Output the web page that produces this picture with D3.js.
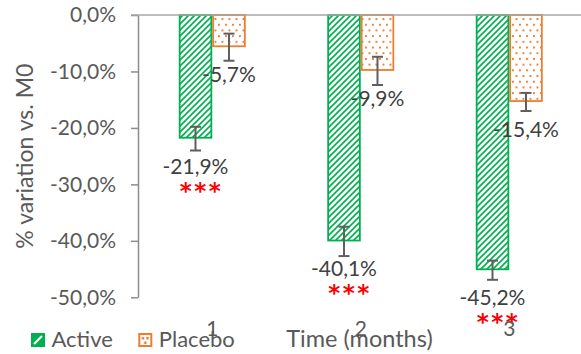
<!DOCTYPE html>
<html>
<head>
<meta charset="utf-8">
<script src="https://cdn.jsdelivr.net/npm/d3@7"></script>
<style>
  html, body { margin: 0; padding: 0; background: #fff; }
  svg { display: block; font-family: Lato, "Open Sans", sans-serif; }
</style>
</head>
<body>
<svg id="chart" width="581" height="354"></svg>
<script>
// Mean change from baseline (M0), in %, per follow-up month
const months = ["1", "2", "3"];
const seriesNames = ["Active", "Placebo"];
const activeValues = [-21.9, -40.1, -45.2];
const placeboValues = [-5.7, -9.9, -15.4];
const activeErrors = [2.1, 2.6, 1.7];
const placeboErrors = [2.4, 2.5, 1.6];
const significance = ["***", "***", "***"];
const yTicks = [0, -10, -20, -30, -40, -50];

const green = "#00b050";
const orange = "#ed7d31";

const locale = d3.formatLocale({ decimal: ",", thousands: ".", grouping: [3], currency: ["", "€"], minus: "-" });
const fmt1 = locale.format(".1f");
const pct = v => fmt1(v) + "%";

const svg = d3.select("#chart");
const defs = svg.append("defs");

// Diagonal hatch for the active arm
const hatch = defs.append("pattern")
  .attr("id", "hatch").attr("patternUnits", "userSpaceOnUse")
  .attr("width", 6).attr("height", 6);
hatch.append("rect").attr("width", 6).attr("height", 6).attr("fill", "#fff");
hatch.append("path")
  .attr("d", "M-1.5,1.5L1.5,-1.5M0,6L6,0M4.5,7.5L7.5,4.5")
  .attr("stroke", green).attr("stroke-width", 1.6);

// Dotted fill for the placebo arm
const dots = defs.append("pattern")
  .attr("id", "dots").attr("patternUnits", "userSpaceOnUse")
  .attr("width", 7).attr("height", 11.4);
dots.append("rect").attr("width", 7).attr("height", 11.4).attr("fill", "#fff");
dots.append("rect").attr("x", 1).attr("y", 1).attr("width", 1.9).attr("height", 1.9).attr("fill", orange);
dots.append("rect").attr("x", 4.5).attr("y", 6.7).attr("width", 1.9).attr("height", 1.9).attr("fill", orange);

// Compact versions of both fills for the legend keys
const hatchKey = defs.append("pattern")
  .attr("id", "hatchKey").attr("patternUnits", "objectBoundingBox")
  .attr("width", 1).attr("height", 1);
hatchKey.append("rect").attr("width", 12).attr("height", 12).attr("fill", green);
hatchKey.append("path").attr("d", "M2,10L10,2").attr("stroke", "#fff").attr("stroke-width", 2.2);

const dotsKey = defs.append("pattern")
  .attr("id", "dotsKey").attr("patternUnits", "objectBoundingBox")
  .attr("width", 1).attr("height", 1);
dotsKey.append("rect").attr("width", 12).attr("height", 12).attr("fill", "#fff");
dotsKey.append("rect").attr("x", 2.5).attr("y", 3).attr("width", 2.5).attr("height", 2.5).attr("fill", orange);
dotsKey.append("rect").attr("x", 7).attr("y", 3).attr("width", 2.5).attr("height", 2.5).attr("fill", orange);
dotsKey.append("rect").attr("x", 4.8).attr("y", 7.5).attr("width", 2.5).attr("height", 2.5).attr("fill", orange);

const series = [
  { name: seriesNames[0], values: activeValues, errors: activeErrors, color: green, fill: "url(#hatch)", key: "url(#hatchKey)" },
  { name: seriesNames[1], values: placeboValues, errors: placeboErrors, color: orange, fill: "url(#dots)", key: "url(#dotsKey)" }
];

const plotLeft = 138, plotRight = 583.5, plotTop = 15, plotBottom = 297.3;

const y = d3.scaleLinear().domain([-50, 0]).range([plotBottom, plotTop]);
const x0 = d3.scaleBand().domain(months).range([plotLeft, plotRight])
  .paddingInner(0.549).paddingOuter(0.2745);
const x1 = d3.scaleBand().domain(seriesNames).range([0, x0.bandwidth()]);

// Y axis
const yAxis = svg.append("g")
  .attr("transform", `translate(${plotLeft},0)`)
  .call(d3.axisLeft(y).tickValues(yTicks).tickFormat(pct).tickSize(7).tickSizeOuter(0).tickPadding(15));
yAxis.select(".domain").attr("stroke", "#8c8c8c").attr("stroke-width", 1.5);
yAxis.selectAll(".tick line").attr("stroke", "#8c8c8c").attr("stroke-width", 1.5);
yAxis.selectAll(".tick text").attr("fill", "#595959").attr("font-size", 21)
  .attr("font-family", "Lato, 'Open Sans', sans-serif");

// Bars
const groups = svg.append("g").selectAll("g")
  .data(series).join("g");

groups.selectAll("rect")
  .data(s => s.values.map((v, i) => ({ s, v, i })))
  .join("rect")
  .attr("x", d => x0(months[d.i]) + x1(d.s.name) + 0.9)
  .attr("y", y(0))
  .attr("width", x1.bandwidth() - 1.8)
  .attr("height", d => y(d.v) - y(0) - 0.9)
  .attr("fill", d => d.s.fill)
  .attr("stroke", d => d.s.color)
  .attr("stroke-width", 1.8);

// Category axis line along zero
svg.append("line")
  .attr("x1", plotLeft - 7).attr("x2", plotRight)
  .attr("y1", y(0)).attr("y2", y(0))
  .attr("stroke", "#a6a6a6").attr("stroke-width", 1.6);

// Error bars
const cx = d => x0(months[d.i]) + x1(d.s.name) + x1.bandwidth() / 2;
const err = groups.selectAll("g.err")
  .data(s => s.values.map((v, i) => ({ s, v, i, e: s.errors[i] })))
  .join("g").attr("class", "err")
  .attr("stroke", "#5f5f5f").attr("stroke-width", 2);
err.append("line")
  .attr("x1", cx).attr("x2", cx)
  .attr("y1", d => y(d.v + d.e)).attr("y2", d => y(d.v - d.e));
err.append("line")
  .attr("x1", d => cx(d) - 5.5).attr("x2", d => cx(d) + 5.5)
  .attr("y1", d => y(d.v + d.e)).attr("y2", d => y(d.v + d.e));
err.append("line")
  .attr("x1", d => cx(d) - 5.5).attr("x2", d => cx(d) + 5.5)
  .attr("y1", d => y(d.v - d.e)).attr("y2", d => y(d.v - d.e));

// Value labels
groups.selectAll("text.val")
  .data(s => s.values.map((v, i) => ({ s, v, i })))
  .join("text").attr("class", "val")
  .attr("x", cx)
  .attr("y", d => y(d.v) + 35)
  .attr("text-anchor", "middle")
  .attr("font-size", 21)
  .attr("fill", "#404040")
  .text(d => pct(d.v));

// Significance markers under the active bars
svg.append("g").selectAll("text")
  .data(significance)
  .join("text")
  .attr("x", (d, i) => x0(months[i]) + x1(seriesNames[0]) + x1.bandwidth() / 2 + 6)
  .attr("y", (d, i) => y(activeValues[i]) + 60)
  .attr("text-anchor", "middle")
  .attr("font-family", "'DejaVu Sans', sans-serif")
  .attr("font-size", 23)
  .attr("font-weight", "bold")
  .attr("letter-spacing", 2.5)
  .attr("fill", "#ff0000")
  .text(d => d);

// Month labels
const xAxis = svg.append("g")
  .call(d3.axisBottom(x0).tickSize(0).tickPadding(0));
xAxis.select(".domain").remove();
xAxis.selectAll(".tick text")
  .attr("dy", null).attr("y", 335.5)
  .attr("fill", "#595959").attr("font-size", 21)
  .attr("font-family", "Lato, 'Open Sans', sans-serif");

// Axis titles
svg.append("text")
  .attr("transform", `translate(33,${(plotTop + plotBottom) / 2}) rotate(-90)`)
  .attr("text-anchor", "middle")
  .attr("font-size", 23)
  .attr("fill", "#595959")
  .text("% variation vs. M0");

svg.append("text")
  .attr("x", 359.5).attr("y", 346.5)
  .attr("text-anchor", "middle")
  .attr("font-size", 23.5)
  .attr("fill", "#595959")
  .text("Time (months)");

// Legend
const legendX = [31, 138.3];
const legend = svg.append("g").selectAll("g")
  .data(series).join("g")
  .attr("transform", (d, i) => `translate(${legendX[i]},333)`);
legend.append("rect")
  .attr("x", 1).attr("y", 1).attr("width", 12).attr("height", 12)
  .attr("fill", d => d.key).attr("stroke", d => d.color).attr("stroke-width", 2);
legend.append("text")
  .attr("x", 20.5).attr("y", 13.7)
  .attr("font-size", 22)
  .attr("fill", "#595959")
  .text(d => d.name);
</script>
</body>
</html>
